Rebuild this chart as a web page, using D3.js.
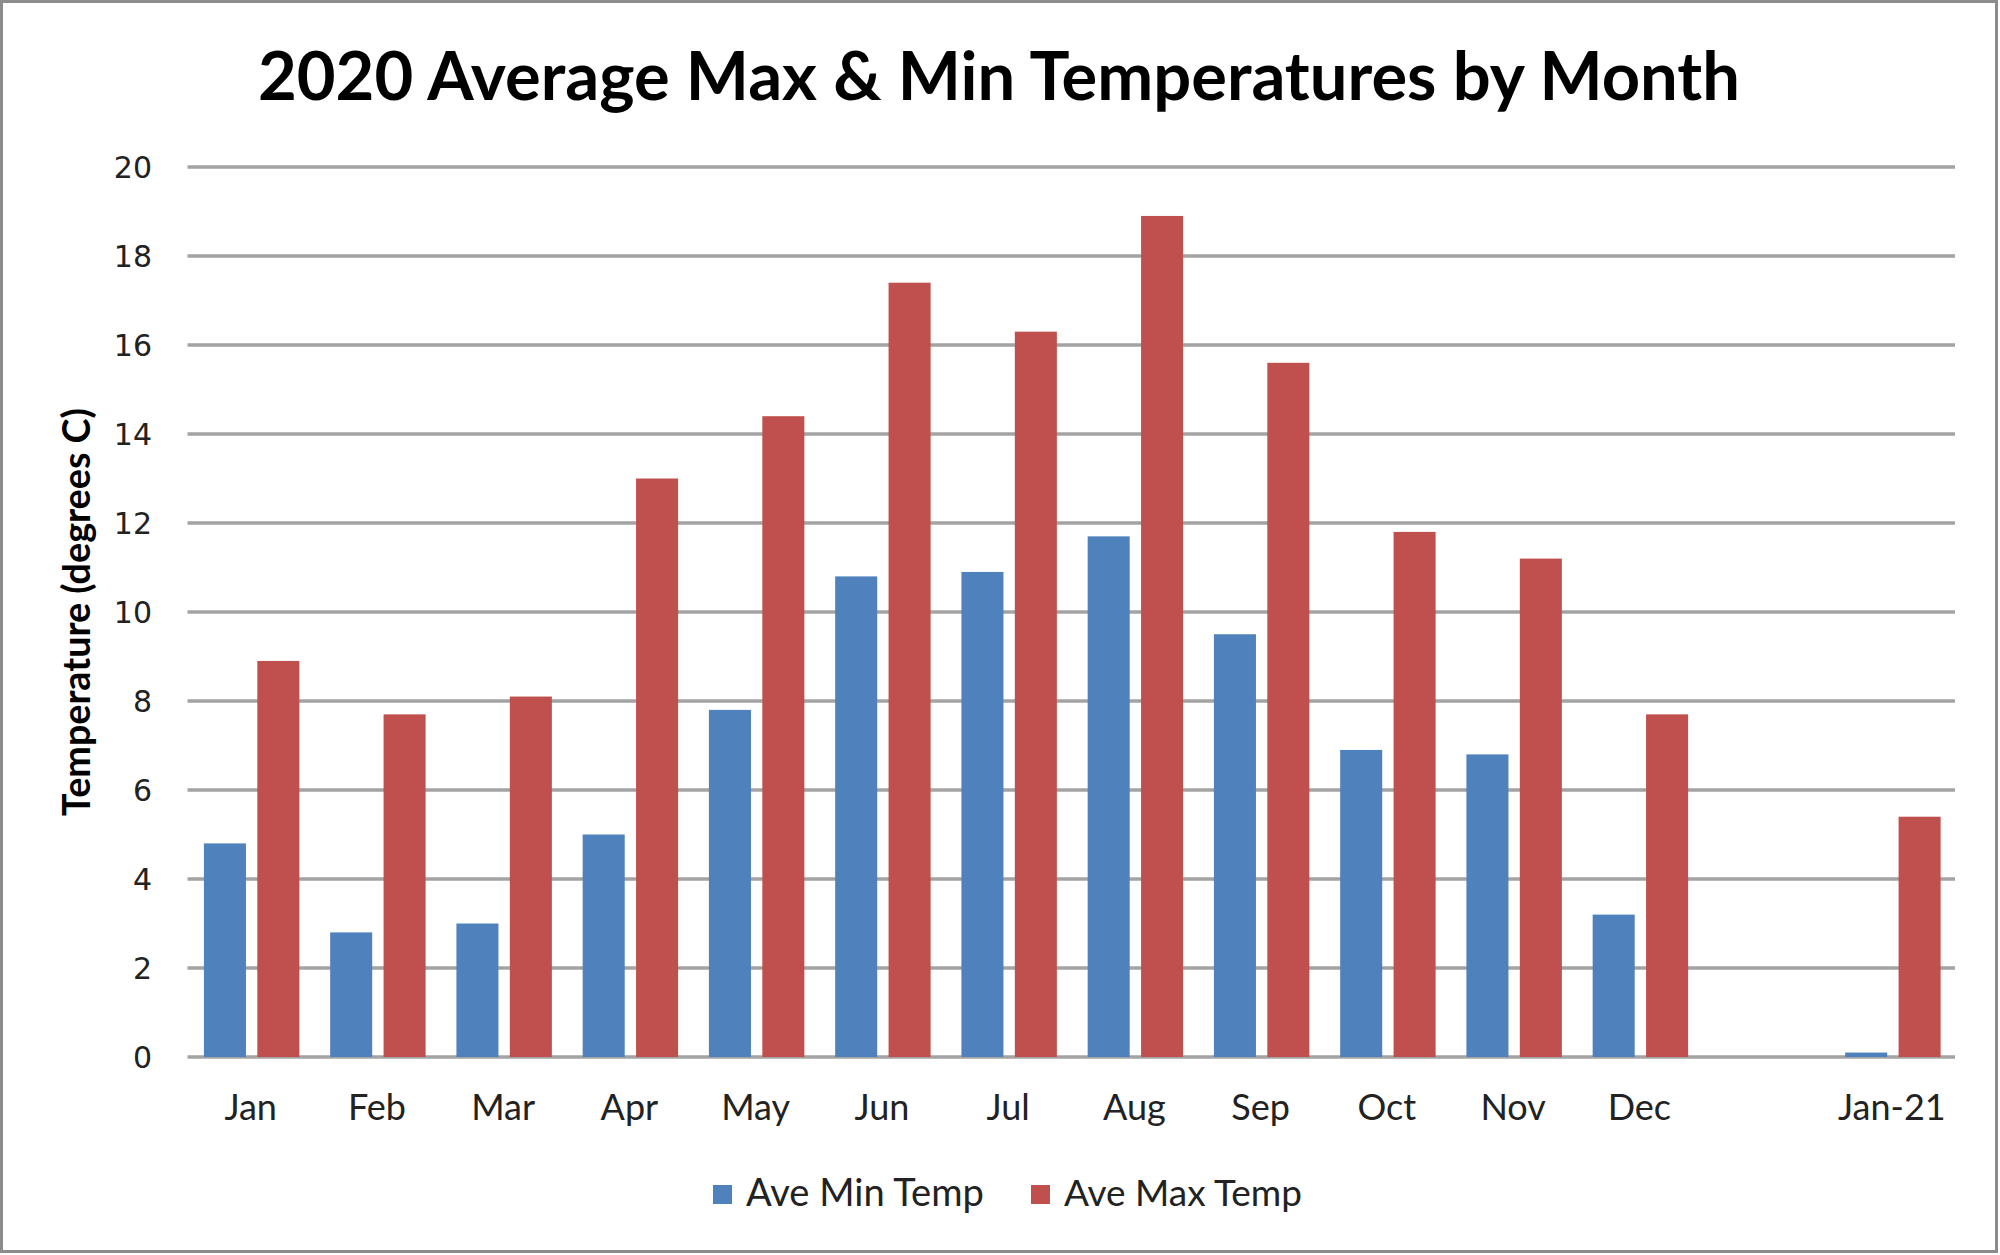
<!DOCTYPE html>
<html>
<head>
<meta charset="utf-8">
<script src="https://cdn.jsdelivr.net/npm/d3@7"></script>
<style>
  html, body { margin: 0; padding: 0; background: #fff; }
  svg { display: block; }
</style>
</head>
<body>
<svg id="chart" width="2000" height="1255"></svg>
<script>
const categories = ["Jan","Feb","Mar","Apr","May","Jun","Jul","Aug","Sep","Oct","Nov","Dec","","Jan-21"];
const minTemp = [4.8, 2.8, 3.0, 5.0, 7.8, 10.8, 10.9, 11.7, 9.5, 6.9, 6.8, 3.2, null, 0.1];
const maxTemp = [8.9, 7.7, 8.1, 13.0, 14.4, 17.4, 16.3, 18.9, 15.6, 11.8, 11.2, 7.7, null, 5.4];
const seriesNames = ["Ave Min Temp", "Ave Max Temp"];
const seriesColors = ["#4F81BD", "#C0504D"];
const yTicks = [0, 2, 4, 6, 8, 10, 12, 14, 16, 18, 20];
const titleText = "2020 Average Max & Min Temperatures by Month";
const yTitle = "Temperature (degrees C)";

const svg = d3.select("#chart");
const W = 2000, H = 1255;

// border
svg.append("rect").attr("x", 1.5).attr("y", 1.5).attr("width", W - 5).attr("height", H - 5)
  .attr("fill", "#fff").attr("stroke", "#8c8c8c").attr("stroke-width", 3);

const plot = { left: 187.5, right: 1955, top: 167, bottom: 1057 };

const x = d3.scaleBand().domain(d3.range(categories.length))
  .range([plot.left, plot.right]).paddingInner(0).paddingOuter(0);
const y = d3.scaleLinear().domain([0, 20]).range([plot.bottom, plot.top]);

// gridlines
svg.append("g").selectAll("line").data(yTicks).join("line")
  .attr("x1", plot.left).attr("x2", plot.right)
  .attr("y1", d => y(d)).attr("y2", d => y(d))
  .attr("stroke", "#a3a3a3").attr("stroke-width", 3.5);

// y axis labels
const yAxis = d3.axisLeft(y).tickValues(yTicks).tickSize(0).tickPadding(0);
const yg = svg.append("g").attr("transform", `translate(152,0)`).call(yAxis);
yg.select(".domain").remove();
yg.selectAll("text").attr("font-family", "DejaVu Sans").attr("font-size", 30)
  .attr("fill", "#222").attr("dy", "0.36em");

// bars
const slot = x.bandwidth();
const barW = slot * 0.333;
const gap = slot * 0.09;
const offL = slot * 0.13;
const series = [minTemp, maxTemp];
series.forEach((vals, si) => {
  svg.append("g").selectAll("rect")
    .data(vals.map((v, i) => ({ v, i })).filter(d => d.v != null))
    .join("rect")
    .attr("x", d => x(d.i) + offL + si * (barW + gap))
    .attr("width", barW)
    .attr("y", d => y(d.v))
    .attr("height", d => y(0) - y(d.v))
    .attr("fill", seriesColors[si]);
});

// x axis labels
const xAxis = d3.axisBottom(x).tickFormat(i => categories[i]).tickSize(0).tickPadding(0);
const xg = svg.append("g").attr("transform", `translate(0,1120)`).call(xAxis);
xg.select(".domain").remove();
xg.selectAll("text").attr("font-family", "Lato").attr("font-size", 36)
  .attr("fill", "#222").attr("dy", 0);

// fit helper
function fitWidth(sel, target) {
  const w = sel.node().getComputedTextLength();
  const fs = parseFloat(sel.attr("font-size"));
  sel.attr("font-size", fs * target / w);
}

// title
const t = svg.append("text").text(titleText)
  .attr("x", 999).attr("y", 100).attr("text-anchor", "middle")
  .attr("font-family", "Lato").attr("font-weight", "bold").attr("font-size", 60).attr("fill", "#000");
fitWidth(t, 1482);

// y title
const yt = svg.append("text").text(yTitle)
  .attr("transform", "translate(90,612) rotate(-90)").attr("text-anchor", "middle")
  .attr("font-family", "Lato").attr("font-weight", "bold").attr("font-size", 28).attr("fill", "#000");
fitWidth(yt, 408);

// legend
const legendItems = [
  { name: seriesNames[0], color: seriesColors[0], x: 713 },
  { name: seriesNames[1], color: seriesColors[1], x: 1031 }
];
const lg = svg.append("g");
legendItems.forEach(it => {
  lg.append("rect").attr("x", it.x).attr("y", 1185).attr("width", 19).attr("height", 19).attr("fill", it.color);
  const tx = lg.append("text").text(it.name).attr("x", it.x + 33).attr("y", 1206)
    .attr("font-family", "Lato").attr("font-size", 35).attr("fill", "#222");
  fitWidth(tx, 238);
});
</script>
</body>
</html>
